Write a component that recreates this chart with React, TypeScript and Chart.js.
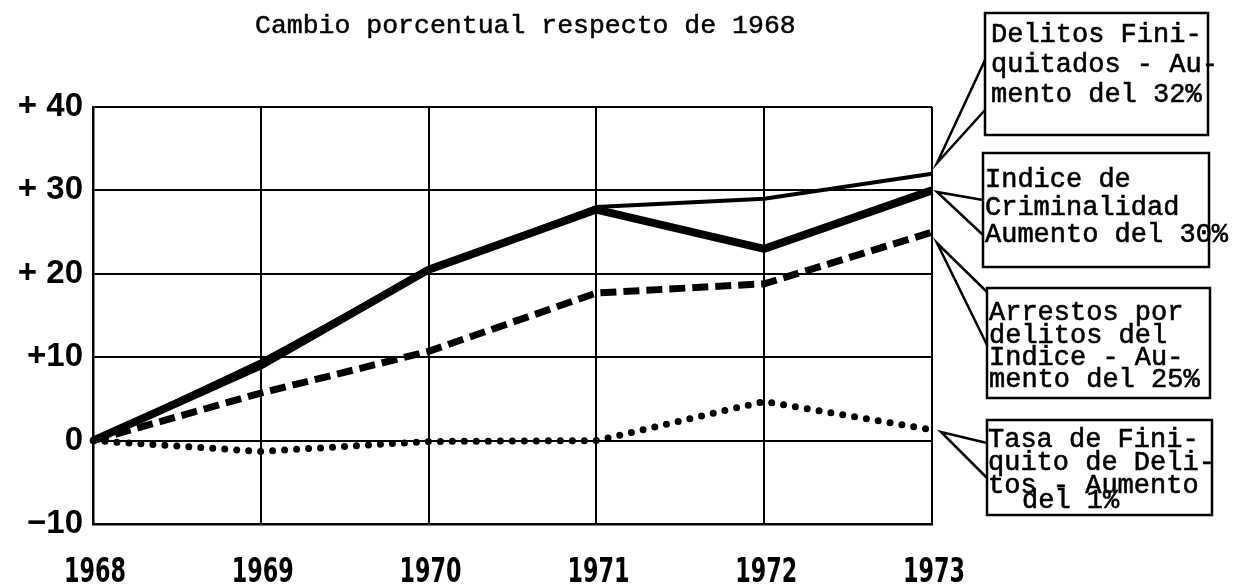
import React, { useEffect, useRef } from "react";
import { Chart, registerables } from "chart.js";

Chart.register(...registerables);

const years = ["1968", "1969", "1970", "1971", "1972", "1973"];
const delitosFiniquitados = [0, 9.5, 20.5, 28, 29, 32];
const indiceCriminalidad = [0, 9, 20.5, 27.7, 23, 30];
const arrestosIndice = [0, 5.7, 10.7, 17.7, 18.8, 25];
const tasaFiniquito = [0, -1.3, -0.1, 0, 4.7, 1.3];
const yTickValues = [-10, 0, 10, 20, 30, 40];
const yTickLabels = ["\u221210", "0", "+10", "+ 20", "+ 30", "+ 40"];
const titleText = "Cambio porcentual respecto de 1968";
const calloutFiniquitados = ["Delitos Fini-", "quitados - Au-", "mento del 32%"];
const calloutCriminalidad = ["Indice de", "Criminalidad", "Aumento del 30%"];
const calloutArrestos = ["Arrestos por", "delitos del", "Indice - Au-", "mento del 25%"];
const calloutTasa = ["Tasa de Fini-", "quito de Deli-", "tos - Aumento", "del 1%"];

const MONO = "'Liberation Mono', 'Courier New', monospace";
const YEAR_FONT = "bold 34px 'Liberation Sans Narrow', 'DejaVu Sans Condensed', 'DejaVu Sans', sans-serif";

// layout of the callout boxes (pixels)
const callouts = [
  { lines: calloutFiniquitados, box: [985, 13, 223, 122], tip: [937, 163], a: 60, b: 110, tx: [991, 991, 991], ty: [42, 72, 102] },
  { lines: calloutCriminalidad, box: [983, 153, 226, 114], tip: [937, 192], a: 200, b: 235, tx: [985, 985, 985], ty: [187, 215, 242] },
  { lines: calloutArrestos, box: [987, 288, 223, 110], tip: [937, 243], a: 292, b: 345, tx: [989, 989, 989, 989], ty: [320, 343, 365, 387] },
  { lines: calloutTasa, box: [987, 420, 225, 95], tip: [941, 432], a: 443, b: 478, tx: [988, 988, 988, 1022], ty: [447, 470, 493, 508] },
];

function typeText(ctx: CanvasRenderingContext2D, t: string, x: number, y: number) {
  ctx.fillText(t, x, y);
  ctx.strokeText(t, x, y);
}

const annotationPlugin = {
  id: "annotations",
  afterDraw(chart: any) {
    const ctx = chart.ctx as CanvasRenderingContext2D;
    ctx.save();
    ctx.fillStyle = "#000";
    ctx.strokeStyle = "#000";
    ctx.textBaseline = "alphabetic";
    ctx.textAlign = "left";
    ctx.lineWidth = 0.5;
    ctx.font = `26.5px ${MONO}`;
    typeText(ctx, titleText, 255, 33);

    // year labels under the x axis, positioned by the x scale
    const xs = chart.scales.x;
    ctx.font = YEAR_FONT;
    ctx.textAlign = "center";
    years.forEach((yr, i) => {
      ctx.fillText(yr, xs.getPixelForTick(i) + 2, 582, 62);
    });

    ctx.textAlign = "left";
    for (const c of callouts) {
      const [x, y, w, h] = c.box;
      ctx.lineWidth = 2.5;
      ctx.strokeRect(x, y, w, h);
      ctx.beginPath();
      ctx.moveTo(x, c.a);
      ctx.lineTo(c.tip[0], c.tip[1]);
      ctx.lineTo(x, c.b);
      ctx.stroke();
      ctx.lineWidth = 0.6;
      ctx.font = `27px ${MONO}`;
      c.lines.forEach((t, i) => typeText(ctx, t, c.tx[i], c.ty[i]));
    }
    ctx.restore();
  },
};

export default function App() {
  const ref = useRef<HTMLCanvasElement>(null);
  useEffect(() => {
    if (!ref.current) return;
    const chart = new Chart(ref.current, {
      type: "line",
      data: {
        labels: years,
        datasets: [
          {
            label: "Delitos Finiquitados",
            data: delitosFiniquitados,
            borderColor: "#000",
            borderWidth: 4,
            pointRadius: 0,
            tension: 0,
          },
          {
            label: "Indice de Criminalidad",
            data: indiceCriminalidad,
            borderColor: "#000",
            borderWidth: 8,
            pointRadius: 0,
            tension: 0,
          },
          {
            label: "Arrestos por delitos del Indice",
            data: arrestosIndice,
            borderColor: "#000",
            borderWidth: 7,
            borderDash: [16, 7],
            pointRadius: 0,
            tension: 0,
          },
          {
            label: "Tasa de Finiquito de Delitos",
            data: tasaFiniquito,
            borderColor: "#000",
            borderWidth: 7,
            borderDash: [0, 12],
            borderCapStyle: "round",
            pointRadius: 0,
            tension: 0,
          },
        ],
      },
      options: {
        animation: false,
        responsive: false,
        layout: { padding: { left: 0, right: 305, top: 107, bottom: 0 } },
        plugins: { legend: { display: false }, tooltip: { enabled: false }, title: { display: false } },
        scales: {
          x: {
            offset: false,
            grid: { color: "#000", lineWidth: 2, drawTicks: false },
            border: { color: "#000", width: 2.5 },
            ticks: { display: false, autoSkip: false },
            afterFit(scale: any) {
              scale.height = 63;
            },
          },
          y: {
            min: -10,
            max: 40,
            grid: { color: "#000", lineWidth: 2, drawTicks: false },
            border: { color: "#000", width: 2.5 },
            afterBuildTicks(scale: any) {
              scale.ticks = yTickValues.map((v) => ({ value: v }));
            },
            ticks: {
              color: "#000",
              padding: 10,
              font: { family: "'Liberation Sans', Arial, sans-serif", weight: "bold", size: 33 },
              callback: (v: any) => {
                const i = yTickValues.indexOf(Number(v));
                return i >= 0 ? yTickLabels[i] : "";
              },
            },
            afterFit(scale: any) {
              scale.width = 93;
            },
          },
        },
      },
      plugins: [annotationPlugin],
    } as any);
    return () => chart.destroy();
  }, []);
  return (
    <div style={{ position: "absolute", left: 0, top: 0, width: 1237, height: 587, background: "#fff" }}>
      <canvas ref={ref} width={1237} height={587} style={{ display: "block" }} />
    </div>
  );
}
